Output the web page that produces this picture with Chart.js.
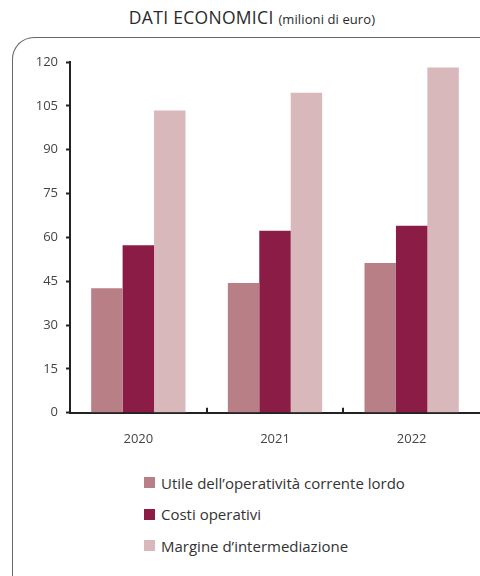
<!DOCTYPE html>
<html>
<head>
<meta charset="utf-8">
<script src="https://cdn.jsdelivr.net/npm/chart.js@4/dist/chart.umd.min.js"></script>
<style>
    html, body { margin: 0; padding: 0; background: #fff; }
    body { width: 480px; height: 576px; position: relative; overflow: hidden; font-family: "Open Sans", sans-serif; color: #333; }
    #title { position: absolute; top: 5px; left: 12px; width: 480px; text-align: center; font-size: 17.5px; line-height: 24px; letter-spacing: 0.3px; color: #2a2a2a; white-space: nowrap; }
    #title small { font-size: 13px; letter-spacing: 0.1px; }
    #frame { position: absolute; left: 12px; top: 37px; width: 520px; height: 600px; border-top: 1px solid #666; border-left: 1px solid #666; border-top-left-radius: 22px; }
    #chartWrap { position: absolute; left: 0; top: 0; width: 480px; height: 460px; }
    #legend { position: absolute; left: 144px; top: 467px; font-size: 15px; color: #333; }
    #legend .item { height: 31.5px; display: flex; align-items: center; }
    #legend .box { width: 11px; height: 11px; margin-right: 6px; }
</style>
</head>
<body>
<div id="title">DATI ECONOMICI <small>(milioni di euro)</small></div>
<div id="frame"></div>
<div id="chartWrap"><canvas id="datiChart"></canvas></div>
<div id="legend"></div>
<script>
const anni = ['2020', '2021', '2022'];
const utileOperativita = [42.6, 44.4, 51.2];
const costiOperativi = [57.3, 62.3, 64.0];
const margineIntermediazione = [103.4, 109.5, 118.1];
const yTicks = [0, 15, 30, 45, 60, 75, 90, 105, 120];

const axisColor = '#222';
const textColor = '#444';

// small upward ticks between the year groups
const categoryTicks = {
    id: 'categoryTicks',
    afterDraw(chart) {
        const x = chart.scales.x;
        const bottom = chart.chartArea.bottom;
        const ctx = chart.ctx;
        ctx.save();
        ctx.strokeStyle = axisColor;
        ctx.lineWidth = 2;
        for (let i = 1; i < anni.length; i++) {
            const px = Math.round((x.getPixelForValue(i - 1) + x.getPixelForValue(i)) / 2);
            ctx.beginPath();
            ctx.moveTo(px, bottom - 5);
            ctx.lineTo(px, bottom);
            ctx.stroke();
        }
        ctx.restore();
    }
};

const chart = new Chart(document.getElementById('datiChart'), {
    type: 'bar',
    data: {
        labels: anni,
        datasets: [
            { label: 'Utile dell\u2019operatività corrente lordo', data: utileOperativita, backgroundColor: '#b87f87' },
            { label: 'Costi operativi', data: costiOperativi, backgroundColor: '#8a1c45' },
            { label: 'Margine d\u2019intermediazione', data: margineIntermediazione, backgroundColor: '#d8b8bb' }
        ]
    },
    options: {
        responsive: true,
        maintainAspectRatio: false,
        animation: false,
        layout: { padding: { top: 62, right: 0, left: 0, bottom: 0 } },
        datasets: { bar: { categoryPercentage: 0.69, barPercentage: 1, borderWidth: 0 } },
        plugins: {
            legend: { display: false },
            tooltip: { enabled: false }
        },
        scales: {
            x: {
                grid: { display: false, drawTicks: false },
                border: { color: axisColor, width: 2 },
                ticks: { color: textColor, font: { family: 'Open Sans', size: 13 }, padding: 19 },
                afterFit(scale) { scale.height = 47.3; }
            },
            y: {
                min: 0,
                max: 120,
                afterBuildTicks(scale) { scale.ticks = yTicks.map(function (v) { return { value: v }; }); },
                grid: { drawOnChartArea: false, drawTicks: true, tickLength: 4, tickColor: axisColor, tickWidth: 2 },
                border: { color: axisColor, width: 2 },
                ticks: { color: textColor, font: { family: 'Open Sans', size: 13 }, padding: 8 },
                afterFit(scale) { scale.width = 70; }
            }
        }
    },
    plugins: [categoryTicks]
});

// vertical legend built from the datasets
const legendEl = document.getElementById('legend');
chart.data.datasets.forEach(function (ds) {
    const item = document.createElement('div');
    item.className = 'item';
    const box = document.createElement('span');
    box.className = 'box';
    box.style.background = ds.backgroundColor;
    const txt = document.createElement('span');
    txt.textContent = ds.label;
    item.appendChild(box);
    item.appendChild(txt);
    legendEl.appendChild(item);
});
</script>
</body>
</html>
